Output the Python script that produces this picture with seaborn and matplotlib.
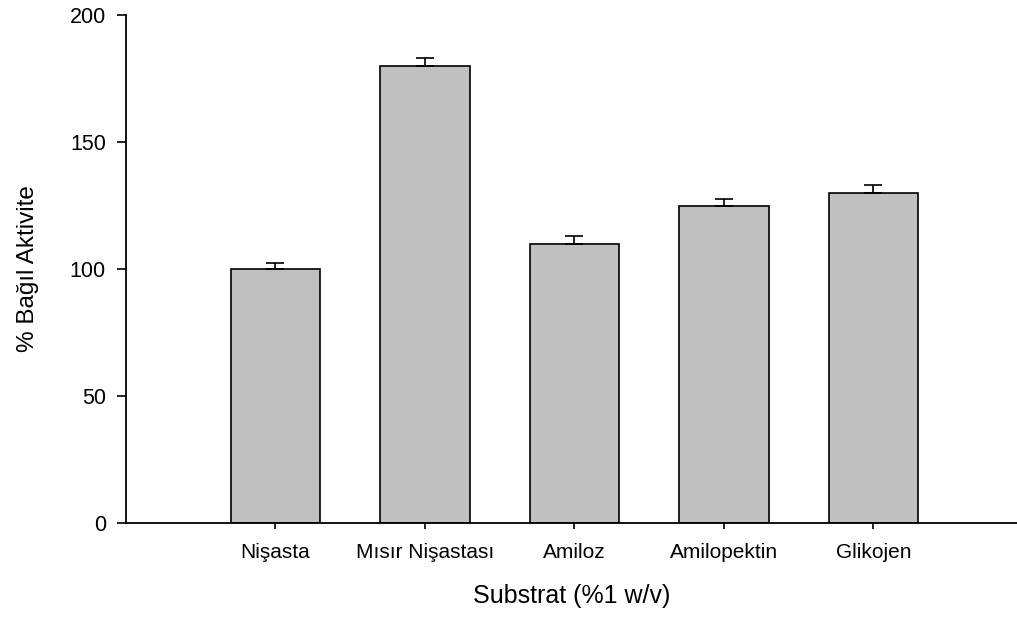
import matplotlib
matplotlib.use("Agg")
import matplotlib.pyplot as plt
import seaborn as sns
import pandas as pd

categories = ["Nişasta", "Mısır Nişastası", "Amiloz", "Amilopektin", "Glikojen"]
values = [100, 180, 110, 125, 130]
errors = [2.5, 3.2, 2.8, 2.7, 3.0]
yticks = [0, 50, 100, 150, 200]

sns.set_style("ticks")
plt.rcParams["font.family"] = ["Liberation Sans", "DejaVu Sans"]
plt.rcParams["text.color"] = "black"
plt.rcParams["axes.labelcolor"] = "black"
plt.rcParams["xtick.color"] = "black"
plt.rcParams["ytick.color"] = "black"
plt.rcParams["axes.edgecolor"] = "black"

df = pd.DataFrame({"Substrat": categories, "Aktivite": values})

W, H = 1017, 617
fig = plt.figure(figsize=(W / 100, H / 100), dpi=100)
ax = fig.add_axes([126 / W, (H - 523) / H, (W - 126) / W, (523 - 15) / H])

sns.barplot(data=df, x="Substrat", y="Aktivite", color="#c0c0c0",
            edgecolor="black", linewidth=1.2, width=0.6, errorbar=None,
            saturation=1, ax=ax)
ax.errorbar(range(len(values)), values, yerr=[[0] * len(values), errors],
            fmt="none", ecolor="black", elinewidth=1.2, capsize=6.8,
            capthick=1.2, zorder=5)

ax.set_xlim(-1.0, 4.96)
ax.set_ylim(0, 200)
ax.set_yticks(yticks)
ax.set_yticklabels([str(t) for t in yticks])
sns.despine(ax=ax)
for s in ["left", "bottom"]:
    ax.spines[s].set_linewidth(1.3)
    ax.spines[s].set_color("black")
ax.tick_params(axis="y", length=6.5, width=1.2, pad=8, labelsize=15.5, colors="black")
ax.tick_params(axis="x", length=4.5, width=1.2, pad=10, labelsize=15, colors="black")
ax.set_xlabel("Substrat (%1 w/v)", fontsize=18, labelpad=16, color="black")
ax.set_ylabel("% Bağıl Aktivite", fontsize=17.5, labelpad=22, color="black")

fig.savefig("out.png", dpi=100)
